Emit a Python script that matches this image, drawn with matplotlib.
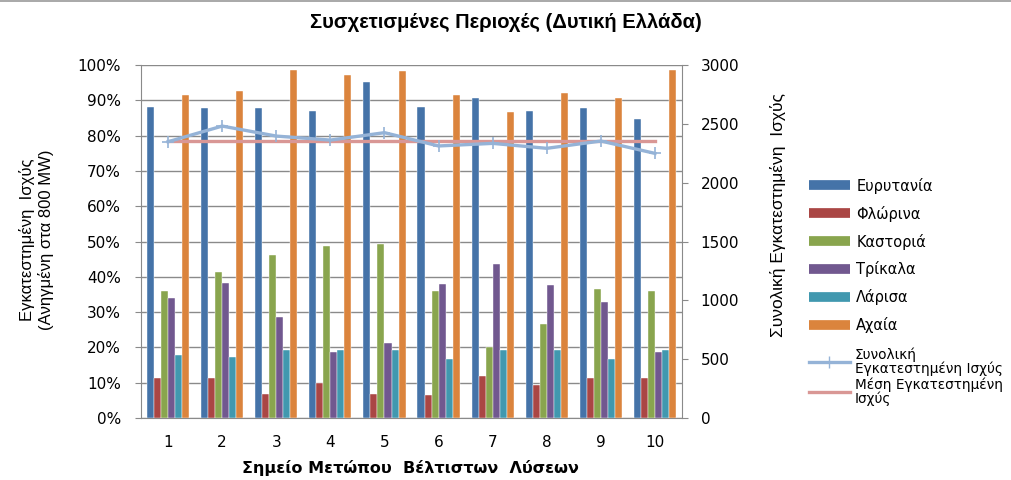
import matplotlib
matplotlib.use('Agg')
import matplotlib.pyplot as plt
import numpy as np
from matplotlib.lines import Line2D
from matplotlib.ticker import PercentFormatter

# data
points = [1, 2, 3, 4, 5, 6, 7, 8, 9, 10]
regions = ['Ευρυτανία', 'Φλώρινα', 'Καστοριά', 'Τρίκαλα', 'Λάρισα', 'Αχαία']
evrytania = [88.2, 87.9, 87.9, 87.0, 95.3, 88.0, 90.6, 87.0, 87.9, 84.7]
florina = [11.3, 11.3, 6.8, 9.8, 6.8, 6.5, 11.9, 9.3, 11.3, 11.3]
kastoria = [35.9, 41.3, 46.1, 48.6, 49.3, 35.9, 20.2, 26.6, 36.5, 35.9]
trikala = [33.9, 38.3, 28.5, 18.6, 21.2, 38.1, 43.6, 37.8, 33.0, 18.6]
larisa = [17.9, 17.3, 19.3, 19.3, 19.3, 16.7, 19.3, 19.3, 16.7, 19.3]
achaia = [91.5, 92.7, 98.6, 97.2, 98.2, 91.5, 86.7, 92.2, 90.6, 98.6]
total_power = [2348, 2481, 2396, 2362, 2425, 2312, 2334, 2292, 2354, 2249]
mean_power = [2357] * 10

colors = ['#4573A8', '#AA4644', '#89A54E', '#71588F', '#4198AF', '#DB843D']
series = [evrytania, florina, kastoria, trikala, larisa, achaia]

narrow = ['Liberation Sans', 'DejaVu Sans']

fig = plt.figure(figsize=(10.11, 4.8), dpi=100)
ax = fig.add_axes([0.1395, 0.129, 0.5351, 0.7356])
ax2 = ax.twinx()

x = np.array(points)
w = 0.13
for i, (vals, c) in enumerate(zip(series, colors)):
    ax.bar(x + (i - 2.5) * w, np.array(vals) / 100, width=w, color=c,
           edgecolor='white', linewidth=0.3, zorder=3)

ax.set_ylim(0, 1)
ax.set_xlim(0.5, 10.5)
ax.set_yticks(np.arange(0, 1.01, 0.1))
ax.yaxis.set_major_formatter(PercentFormatter(1.0, decimals=0))
ax.set_xticks(x)
ax.set_xticklabels([str(p) for p in points])
ax.grid(axis='y', color='#8a8a8a', linewidth=1, zorder=0)
ax.set_axisbelow(True)
ax.tick_params(axis='y', length=4.5, color='#8a8a8a', labelsize=11, pad=10)
ax.tick_params(axis='x', length=0, labelsize=11, pad=12)
for s in ['left', 'bottom']:
    ax.spines[s].set_color('#8a8a8a')
ax.spines['top'].set_visible(False)
ax.spines['right'].set_visible(False)

ax2.plot(x, total_power, color='#95B3D7', linewidth=2.4, marker='+',
         markersize=9, markeredgewidth=1.2, zorder=5)
ax2.plot(x, mean_power, color='#D99795', linewidth=2.4, zorder=4)
ax2.set_ylim(0, 3000)
ax2.set_yticks(np.arange(0, 3001, 500))
ax2.tick_params(axis='y', length=4.5, color='#8a8a8a', labelsize=11, pad=9)
ax2.spines['right'].set_color('#8a8a8a')
ax2.spines['top'].set_visible(False)
ax2.spines['left'].set_visible(False)
ax2.spines['bottom'].set_visible(False)

fig.text(0.5, 0.953, 'Συσχετισμένες Περιοχές (Δυτική Ελλάδα)', ha='center', va='center',
         fontsize=14.5, fontweight='bold', family=narrow)
fig.text(0.406, 0.025, 'Σημείο Μετώπου  Βέλτιστων  Λύσεων', ha='center', va='center',
         fontsize=11.5, fontweight='bold')
fig.text(0.036, 0.5, 'Εγκατεστημένη  Ισχύς\n(Ανηγμένη στα 800 MW)', ha='center', va='center',
         rotation=90, fontsize=12, family=narrow, linespacing=1.25)
fig.text(0.77, 0.552, 'Συνολική Εγκατεστημένη  Ισχύς', ha='center', va='center',
         rotation=90, fontsize=12.5, family=narrow)

# top border of the chart area
fig.add_artist(Line2D([0, 1], [0.998, 0.998], color='#9a9a9a', linewidth=1.2))

bar_handles = [Line2D([], [], color=c, linewidth=7, solid_capstyle='butt') for c in colors]
leg1 = fig.legend(bar_handles, regions, loc='upper left', bbox_to_anchor=(0.80, 0.63),
                  frameon=False, fontsize=10.5, handlelength=2.8, handletextpad=0.45,
                  labelspacing=0.82, borderpad=0, borderaxespad=0)
line_handles = [Line2D([], [], color='#95B3D7', linewidth=2.4, marker='+', markersize=9),
                Line2D([], [], color='#D99795', linewidth=2.4)]
leg2 = fig.legend(line_handles, ['Συνολική\nΕγκατεστημένη Ισχύς', 'Μέση Εγκατεστημένη\nΙσχύς'],
                  loc='upper left', bbox_to_anchor=(0.80, 0.276), frameon=False, fontsize=9.8,
                  handlelength=3.0, handletextpad=0.4, labelspacing=0.1, borderpad=0,
                  borderaxespad=0)
for t in leg2.get_texts():
    t.set_linespacing(0.95)

fig.savefig('out.png', dpi=100)
